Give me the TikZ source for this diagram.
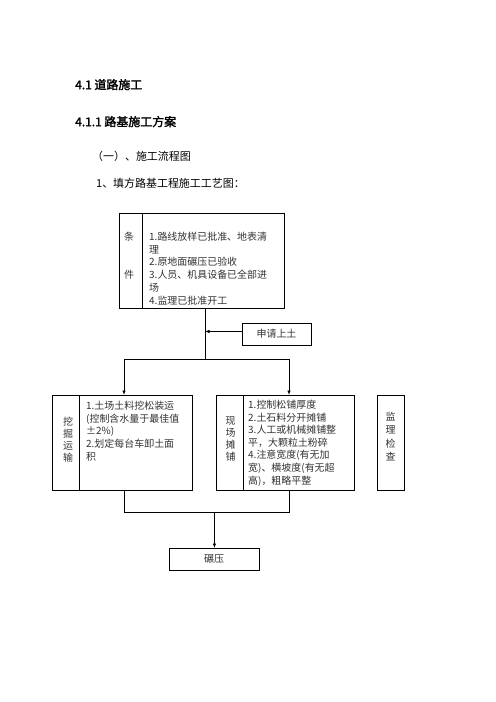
\documentclass[tikz,border=0pt]{standalone}
\usepackage{fontspec}
\setmainfont{Noto Sans CJK SC}[AutoFakeBold=2]
\usetikzlibrary{arrows.meta}
\tikzset{
  box/.style={draw=black, line width=0.9bp, inner sep=0pt, anchor=north west},
  lbl/.style={inner sep=0pt, text=black!80, font=\fontsize{10}{12}\selectfont, text height=8.6pt, text depth=1.4pt},
  txt/.style={lbl, anchor=west},
  head/.style={inner sep=0pt, anchor=west, font=\fontsize{12}{14}\selectfont\bfseries, text height=10.2pt, text depth=1.8pt},
  body/.style={inner sep=0pt, anchor=west, font=\fontsize{11}{13}\selectfont, text height=9.4pt, text depth=1.6pt},
  con/.style={line width=0.8bp, draw=black},
  arr/.style={con, -{Latex[length=4.5bp,width=3.5bp]}}
}
\begin{document}
\begin{tikzpicture}[x=1bp,y=-1bp]
\useasboundingbox (0,0) rectangle (496,702);
\fill[white] (0,0) rectangle (496,702);

% headings
\node[head] (h1) at (75,85) {4.1 道路施工};
\node[head] (h2) at (75,122) {4.1.1 路基施工方案};
\node[body] (h3) at (92,157) {（一）、施工流程图};
\node[body] (h4) at (96,184) {1、填方路基工程施工工艺图：};

% boxes
\node[box, minimum width=165bp, minimum height=95bp] (cond) at (119,213) {};
\node[box, minimum width=69bp, minimum height=22bp] (shen) at (242,323) {};
\node[box, minimum width=140bp, minimum height=95bp] (wa) at (52,395) {};
\node[box, minimum width=138bp, minimum height=95bp] (xian) at (216,395) {};
\node[box, minimum width=27bp, minimum height=95bp] (jian) at (377,395) {};
\node[box, minimum width=90bp, minimum height=22bp] (nian) at (169,548) {};

% dividers
\draw[line width=0.9bp] ([xshift=23bp]cond.north west) -- ([xshift=23bp]cond.south west);
\draw[line width=0.9bp] ([xshift=27bp]wa.north west) -- ([xshift=27bp]wa.south west);
\draw[line width=0.9bp] ([xshift=27bp]xian.north west) -- ([xshift=27bp]xian.south west);

% box centre texts
\node[lbl] (shent) at (276.5,333.5) {申请上土};
\node[lbl] (niant) at (214,559) {碾压};

% side labels
\node[lbl] (c1) at (129,236.7) {条};
\node[lbl] (c2) at (129,275) {件};
\foreach \t [count=\i] in {挖,掘,运,输}
  \node[lbl] (wl\i) at (68,{421.7+(\i-1)*12.2}) {\t};
\foreach \t [count=\i] in {现,场,摊,铺}
  \node[lbl] (xl\i) at (230.7,{420.7+(\i-1)*12}) {\t};
\foreach \t [count=\i] in {监,理,检,查}
  \node[lbl] (jl\i) at (390.7,{417+(\i-1)*13.3}) {\t};

% content lines
\foreach \t [count=\i] in {{1.路线放样已批准、地表清},{理},{2.原地面碾压已验收},{3.人员、机具设备已全部进},{场},{4.监理已批准开工}}
  \node[txt] (ct\i) at (149,{236.7+(\i-1)*12.8}) {\t};
\foreach \t [count=\i] in {{1.土场土料挖松装运},{(控制含水量于最佳值},{±2\%)},{2.划定每台车卸土面},{积}}
  \node[txt] (wt\i) at (86,{405.7+(\i-1)*12.75}) {\t};
\foreach \t [count=\i] in {{1.控制松铺厚度},{2.土石料分开摊铺},{3.人工或机械摊铺整},{平，大颗粒土粉碎},{4.注意宽度(有无加},{宽)、横坡度(有无超},{高)，粗略平整}}
  \node[txt] (xt\i) at (248,{405+(\i-1)*12.6}) {\t};

% connectors
\coordinate (j1) at (205,359);
\draw[con] (cond.south -| j1) -- (j1);
\coordinate (sa) at ([yshift=3bp]shen.west);
\draw[arr] (sa) -- (sa -| j1);
\coordinate (hl) at (124,359);
\coordinate (hr) at (289,359);
\draw[con] (hl) -- (hr);
\draw[arr] (hl) -- (hl |- wa.north);
\draw[arr] (hr) -- (hr |- xian.north);
\coordinate (bl) at (124,512);
\coordinate (br) at (289,512);
\draw[con] (bl |- wa.south) -- (bl) -- (br) -- (br |- xian.south);
\draw[arr] (nian.north |- bl) -- (nian.north);
\end{tikzpicture}
\end{document}
